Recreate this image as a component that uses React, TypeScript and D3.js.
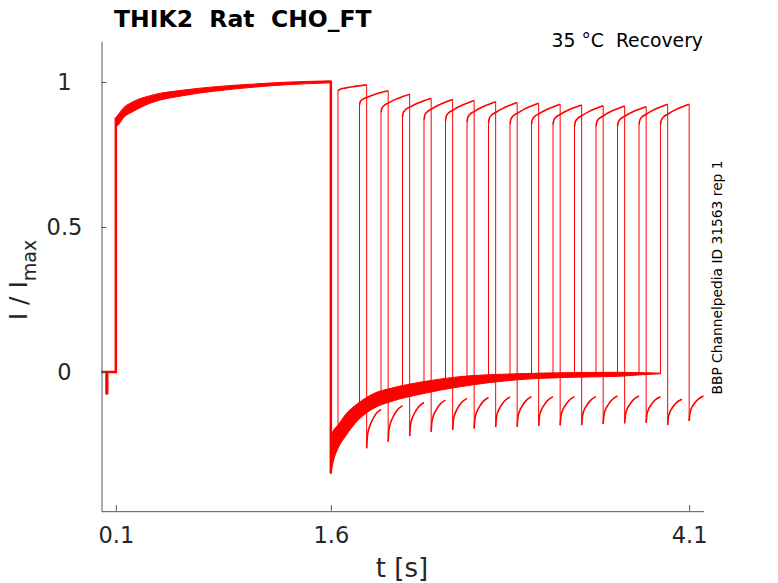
import * as d3 from "d3";
import { useEffect, useRef } from "react";

// Holding + brief artefact before the first pulse
const preTimes = [0, 0.035, 0.035, 0.04, 0.04, 0.1];
const preValues = [0, 0, -0.073, -0.073, 0, 0];

// First (conditioning) pulse: band spanned by all sweeps
const p1Times = [0.1, 0.117, 0.15, 0.22, 0.34, 0.57, 0.8, 1.035, 1.27, 1.6];
const p1Upper = [0.877, 0.888, 0.909, 0.932, 0.953, 0.972, 0.984, 0.992, 0.999, 1.004];
const p1Lower = [0.848, 0.852, 0.875, 0.898, 0.927, 0.953, 0.969, 0.981, 0.99, 0.997];

// Tail after the first pulse (band)
const t1Times = [1.6, 1.62, 1.65, 1.7, 1.79, 1.9, 2.02, 2.25, 2.5, 2.9, 3.3, 3.6, 3.75, 3.9];
const t1Upper = [-0.22, -0.2, -0.183, -0.148, -0.108, -0.074, -0.056, -0.033, -0.016, -0.006, -0.002, -0.001, -0.002, -0.004];
const t1Lower = [-0.35, -0.303, -0.263, -0.223, -0.166, -0.125, -0.102, -0.074, -0.051, -0.027, -0.018, -0.015, -0.01, -0.006];

// Test pulses, one per sweep
const sweepOnsets = [1.65, 1.8, 1.95, 2.1, 2.25, 2.4, 2.55, 2.7, 2.85, 3.0, 3.15, 3.3, 3.45, 3.6, 3.75, 3.9];
const p2StartLevels = [0.967, 0.921, 0.894, 0.88, 0.869, 0.866, 0.861, 0.858, 0.854, 0.854, 0.852, 0.846, 0.846, 0.846, 0.852, 0.852];
const p2EndLevels = [0.99, 0.97, 0.958, 0.944, 0.94, 0.936, 0.932, 0.929, 0.927, 0.923, 0.921, 0.918, 0.917, 0.915, 0.923, 0.923];
const tail2StartLevels = [-0.263, -0.24, -0.221, -0.206, -0.2, -0.195, -0.19, -0.189, -0.186, -0.184, -0.183, -0.179, -0.177, -0.175, -0.183, -0.169];
const tail2EndLevels = [-0.129, -0.116, -0.105, -0.097, -0.091, -0.088, -0.086, -0.085, -0.085, -0.085, -0.085, -0.083, -0.083, -0.085, -0.094, -0.083];

// Shape of a test-pulse arc and of the following tail (time offset, fraction of rise)
const arcTimes = [0, 0.005, 0.02, 0.05, 0.1, 0.15, 0.2];
const arcFrac = [0, 0.22, 0.38, 0.52, 0.72, 0.87, 1];
const tailTimes = [0, 0.005, 0.015, 0.03, 0.06, 0.1];
const tailFrac = [0, 0.3, 0.5, 0.65, 0.86, 1];

const xTickValues = [0.1, 1.6, 4.1];
const yTickValues = [0, 0.5, 1];

export default function App() {
  const svgRef = useRef<SVGSVGElement | null>(null);

  useEffect(() => {
    if (!svgRef.current) return;
    const svg = d3.select(svgRef.current);
    svg.selectAll("*").remove();

    const width = 778;
    const height = 583;
    const font = "DejaVu Sans";
    const red = "#ff0000";
    const axisColor = "#555";
    const textColor = "#262626";

    const x = d3.scaleLinear().domain([0, 4.2]).range([101.5, 703.5]);
    const y = d3.scaleLinear().domain([-0.48, 1.14]).range([511.2, 41.4]);

    svg.attr("viewBox", `0 0 ${width} ${height}`);
    svg.append("rect").attr("width", width).attr("height", height).attr("fill", "#fff");

    const lin = d3
      .line<[number, number]>()
      .x((d) => x(d[0]))
      .y((d) => y(d[1]));
    const smooth = d3
      .line<[number, number]>()
      .x((d) => x(d[0]))
      .y((d) => y(d[1]))
      .curve(d3.curveMonotoneX);

    const plot = svg.append("g");

    // pulse 1 band
    plot
      .append("path")
      .attr(
        "d",
        d3
          .area<number>()
          .x((t) => x(t))
          .y0((_, i) => y(p1Lower[i]))
          .y1((_, i) => y(p1Upper[i]))
          .curve(d3.curveMonotoneX)(p1Times),
      )
      .attr("fill", red)
      .attr("stroke", red)
      .attr("stroke-width", 1);

    // tail 1 band
    plot
      .append("path")
      .attr(
        "d",
        d3
          .area<number>()
          .x((t) => x(t))
          .y0((_, i) => y(t1Lower[i]))
          .y1((_, i) => y(t1Upper[i]))
          .curve(d3.curveMonotoneX)(t1Times),
      )
      .attr("fill", red)
      .attr("stroke", red)
      .attr("stroke-width", 1);

    // holding segment and the two big steps
    const pre: [number, number][] = preTimes.map((t, i) => [t, preValues[i]]);
    pre.push([p1Times[0], p1Upper[0]]);
    plot
      .append("path")
      .attr("d", lin(pre))
      .attr("fill", "none")
      .attr("stroke", red)
      .attr("stroke-width", 2.5);
    plot
      .append("path")
      .attr(
        "d",
        lin([
          [p1Times[p1Times.length - 1], p1Upper[p1Upper.length - 1]],
          [t1Times[0], t1Lower[0]],
        ]),
      )
      .attr("fill", "none")
      .attr("stroke", red)
      .attr("stroke-width", 2.5);

    const lowAt = d3.scaleLinear().domain(t1Times).range(t1Lower);
    const upAt = d3.scaleLinear().domain(t1Times).range(t1Upper);

    sweepOnsets.forEach((on, i) => {
      const off = on + arcTimes[arcTimes.length - 1];
      const g = plot.append("g").attr("fill", "none").attr("stroke", red);
      const arc: [number, number][] = arcTimes.map((dt, k) => [
        on + dt,
        p2StartLevels[i] + arcFrac[k] * (p2EndLevels[i] - p2StartLevels[i]),
      ]);
      const tail: [number, number][] = tailTimes.map((dt, k) => [
        off + dt,
        tail2StartLevels[i] + tailFrac[k] * (tail2EndLevels[i] - tail2StartLevels[i]),
      ]);
      g.append("path")
        .attr("stroke-width", 1)
        .attr(
          "d",
          lin([
            [on, (lowAt(on) + upAt(on)) / 2],
            [on, p2StartLevels[i]],
          ]),
        );
      g.append("path").attr("stroke-width", 1.6).attr("d", smooth(arc));
      g.append("path")
        .attr("stroke-width", 1)
        .attr(
          "d",
          lin([
            [off, p2EndLevels[i]],
            [off, tail2StartLevels[i]],
          ]),
        );
      g.append("path").attr("stroke-width", 1.6).attr("d", smooth(tail));
    });

    // axes
    const xAxis = d3
      .axisBottom(x)
      .tickValues(xTickValues)
      .tickSizeInner(-6)
      .tickSizeOuter(0)
      .tickPadding(16)
      .tickFormat(d3.format(".1f"));
    const yAxis = d3
      .axisLeft(y)
      .tickValues(yTickValues)
      .tickSizeInner(-5)
      .tickSizeOuter(0)
      .tickFormat((d) => String(d));

    const gx = svg.append("g").attr("transform", `translate(0,${y.range()[0]})`).call(xAxis);
    const gy = svg.append("g").attr("transform", `translate(${x.range()[0]},0)`).call(yAxis);
    [gx, gy].forEach((g) => {
      g.attr("font-family", font).attr("font-size", 22.5);
      g.selectAll("path, line").attr("stroke", axisColor).attr("stroke-width", 1);
      g.selectAll("text").attr("fill", textColor);
    });
    gy.selectAll(".tick text").attr("text-anchor", "middle").attr("x", -37);

    // title
    svg
      .append("text")
      .attr("x", 114)
      .attr("y", 26.5)
      .attr("font-family", font)
      .attr("font-weight", "bold")
      .attr("font-size", 23.5)
      .attr("fill", "#000")
      .attr("xml:space", "preserve")
      .text("THIK2  Rat  CHO_FT");

    svg
      .append("text")
      .attr("x", 703)
      .attr("y", 47)
      .attr("text-anchor", "end")
      .attr("font-family", font)
      .attr("font-size", 18.8)
      .attr("fill", "#000")
      .attr("xml:space", "preserve")
      .text("35 °C  Recovery");

    svg
      .append("text")
      .attr("transform", "translate(722,277.5) rotate(-90)")
      .attr("text-anchor", "middle")
      .attr("font-family", font)
      .attr("font-size", 13.8)
      .attr("fill", "#000")
      .text("BBP Channelpedia ID 31563 rep 1");

    // axis labels
    svg
      .append("text")
      .attr("x", 402)
      .attr("y", 577)
      .attr("text-anchor", "middle")
      .attr("font-family", font)
      .attr("font-size", 26)
      .attr("fill", textColor)
      .text("t [s]");

    const yl = svg
      .append("text")
      .attr("transform", "translate(27,280) rotate(-90)")
      .attr("text-anchor", "middle")
      .attr("font-family", font)
      .attr("font-size", 25)
      .attr("fill", textColor)
      .attr("xml:space", "preserve");
    yl.append("tspan").text("I / I");
    yl.append("tspan").attr("font-size", 19).attr("dy", 9).text("max");
  }, []);

  return (
    <svg
      ref={svgRef}
      width={778}
      height={583}
      style={{ position: "absolute", left: 0, top: 0 }}
    />
  );
}
